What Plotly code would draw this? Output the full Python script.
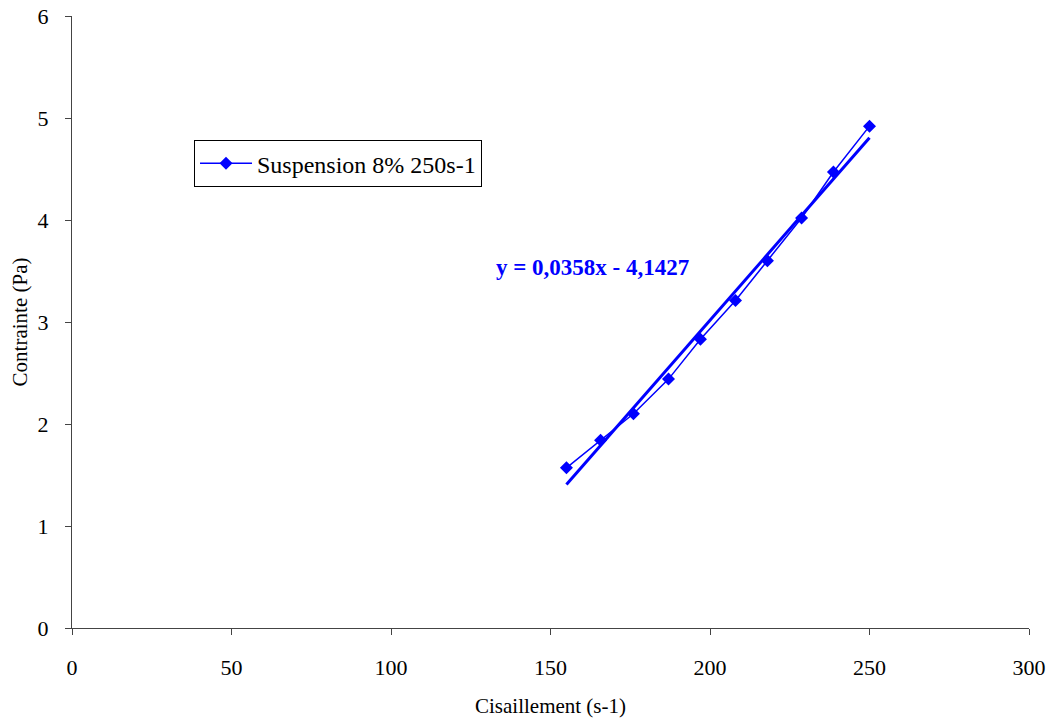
import plotly.graph_objects as go

shear = [155, 165.7, 176, 187, 197, 208, 218, 228.7, 238.7, 250]
stress = [1.57, 1.84, 2.10, 2.44, 2.83, 3.21, 3.60, 4.02, 4.47, 4.92]
slope = 0.0358
intercept = -4.1427
trend_x = [min(shear), max(shear)]
trend_y = [slope * v + intercept for v in trend_x]
series_name = "Suspension 8% 250s-1"
eq_text = "y = 0,0358x - 4,1427"

FONT = "Liberation Serif"
fig = go.Figure()
fig.add_trace(go.Scatter(x=trend_x, y=trend_y, mode="lines",
                         line=dict(color="#0000FF", width=3), showlegend=False,
                         hoverinfo="skip"))
fig.add_trace(go.Scatter(x=shear, y=stress, mode="lines+markers", name=series_name,
                         line=dict(color="#0000FF", width=1.5),
                         marker=dict(symbol="diamond", size=10, color="#0000FF")))
fig.add_annotation(x=163.3, y=3.53, text="<b>" + eq_text + "</b>", showarrow=False,
                   font=dict(family=FONT, size=23, color="#0000FF"))
fig.update_layout(
    width=1053, height=722,
    margin=dict(l=72, r=24, t=16, b=94, autoexpand=False),
    paper_bgcolor="white", plot_bgcolor="white",
    font=dict(family=FONT, size=22, color="black"),
    legend=dict(x=0.1275, y=0.797, xanchor="left", yanchor="top",
                bordercolor="black", borderwidth=1, bgcolor="white",
                itemwidth=52,
                font=dict(family=FONT, size=24, color="black")),
    xaxis=dict(range=[0, 300], dtick=50, showgrid=False, zeroline=False,
               showline=True, linecolor="#444", linewidth=1, ticks="outside",
               ticklen=6, tickcolor="#444", ticklabelstandoff=14, automargin=False,
               title=dict(text="Cisaillement (s-1)", standoff=18,
                          font=dict(family=FONT, size=21))),
    yaxis=dict(range=[0, 6], dtick=1, showgrid=False, zeroline=False,
               showline=True, linecolor="#444", linewidth=1, ticks="outside",
               ticklen=6, tickcolor="#444", ticklabelstandoff=12, automargin=False,
               title=dict(text="Contrainte (Pa)", standoff=4,
                          font=dict(family=FONT, size=21))),
)
fig.write_html("out.html", config={"displayModeBar": False},
               post_script="document.body.style.margin='0';document.body.style.overflow='hidden';")
